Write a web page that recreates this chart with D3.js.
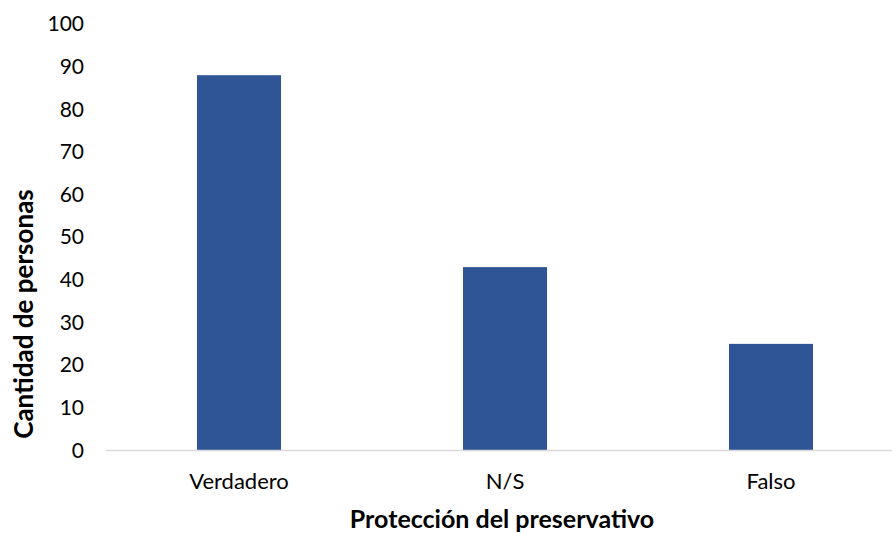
<!DOCTYPE html>
<html>
<head>
<meta charset="utf-8">
<script src="https://cdn.jsdelivr.net/npm/d3@7"></script>
<style>
  html, body { margin: 0; padding: 0; background: #fff; }
  svg { display: block; font-family: Lato, "Open Sans", sans-serif; }
</style>
</head>
<body>
<svg id="chart" width="892" height="533"></svg>
<script>
// Respuestas sobre la protección del preservativo
const categories = ["Verdadero", "N/S", "Falso"];
const values = [88, 43, 25];
const yTicks = [0, 10, 20, 30, 40, 50, 60, 70, 80, 90, 100];
const xTitle = "Protección del preservativo";
const yTitle = "Cantidad de personas";

const svg = d3.select("#chart");
const plot = { left: 106, right: 904, top: 24, bottom: 450.5 };

const x = d3.scaleBand()
  .domain(categories)
  .range([plot.left, plot.right])
  .paddingInner(0.684)
  .paddingOuter(0.342);

const y = d3.scaleLinear()
  .domain([0, 100])
  .range([plot.bottom, plot.top]);

// Barras
svg.append("g")
  .selectAll("rect")
  .data(categories)
  .join("rect")
  .attr("x", d => x(d))
  .attr("width", x.bandwidth())
  .attr("y", (d, i) => y(values[i]))
  .attr("height", (d, i) => y(0) - y(values[i]))
  .attr("fill", "#2f5597");

// Eje X (línea base y etiquetas)
const xAxis = svg.append("g")
  .attr("transform", `translate(0,${plot.bottom})`)
  .call(d3.axisBottom(x).tickSize(0).tickPadding(23))
  .attr("font-family", null)
  .attr("font-size", 22);
xAxis.select(".domain")
  .attr("d", `M${plot.left},0H${plot.right}`)
  .attr("stroke", "#d9d9d9")
  .attr("stroke-width", 1.5);
xAxis.selectAll("text").attr("fill", "#000");

// Eje Y (solo etiquetas)
const yAxis = svg.append("g")
  .attr("transform", `translate(${plot.left},0)`)
  .call(d3.axisLeft(y).tickValues(yTicks).tickSize(0).tickPadding(22))
  .attr("font-family", null)
  .attr("font-size", 21);
yAxis.select(".domain").remove();
yAxis.selectAll("text").attr("fill", "#000");

// Títulos de los ejes
svg.append("text")
  .attr("x", 502)
  .attr("y", 528)
  .attr("text-anchor", "middle")
  .attr("font-size", 25)
  .attr("font-weight", "bold")
  .text(xTitle);

svg.append("text")
  .attr("transform", `translate(33,${(190 + 438) / 2}) rotate(-90)`)
  .attr("text-anchor", "middle")
  .attr("font-size", 26)
  .attr("font-weight", "bold")
  .text(yTitle);
</script>
</body>
</html>
